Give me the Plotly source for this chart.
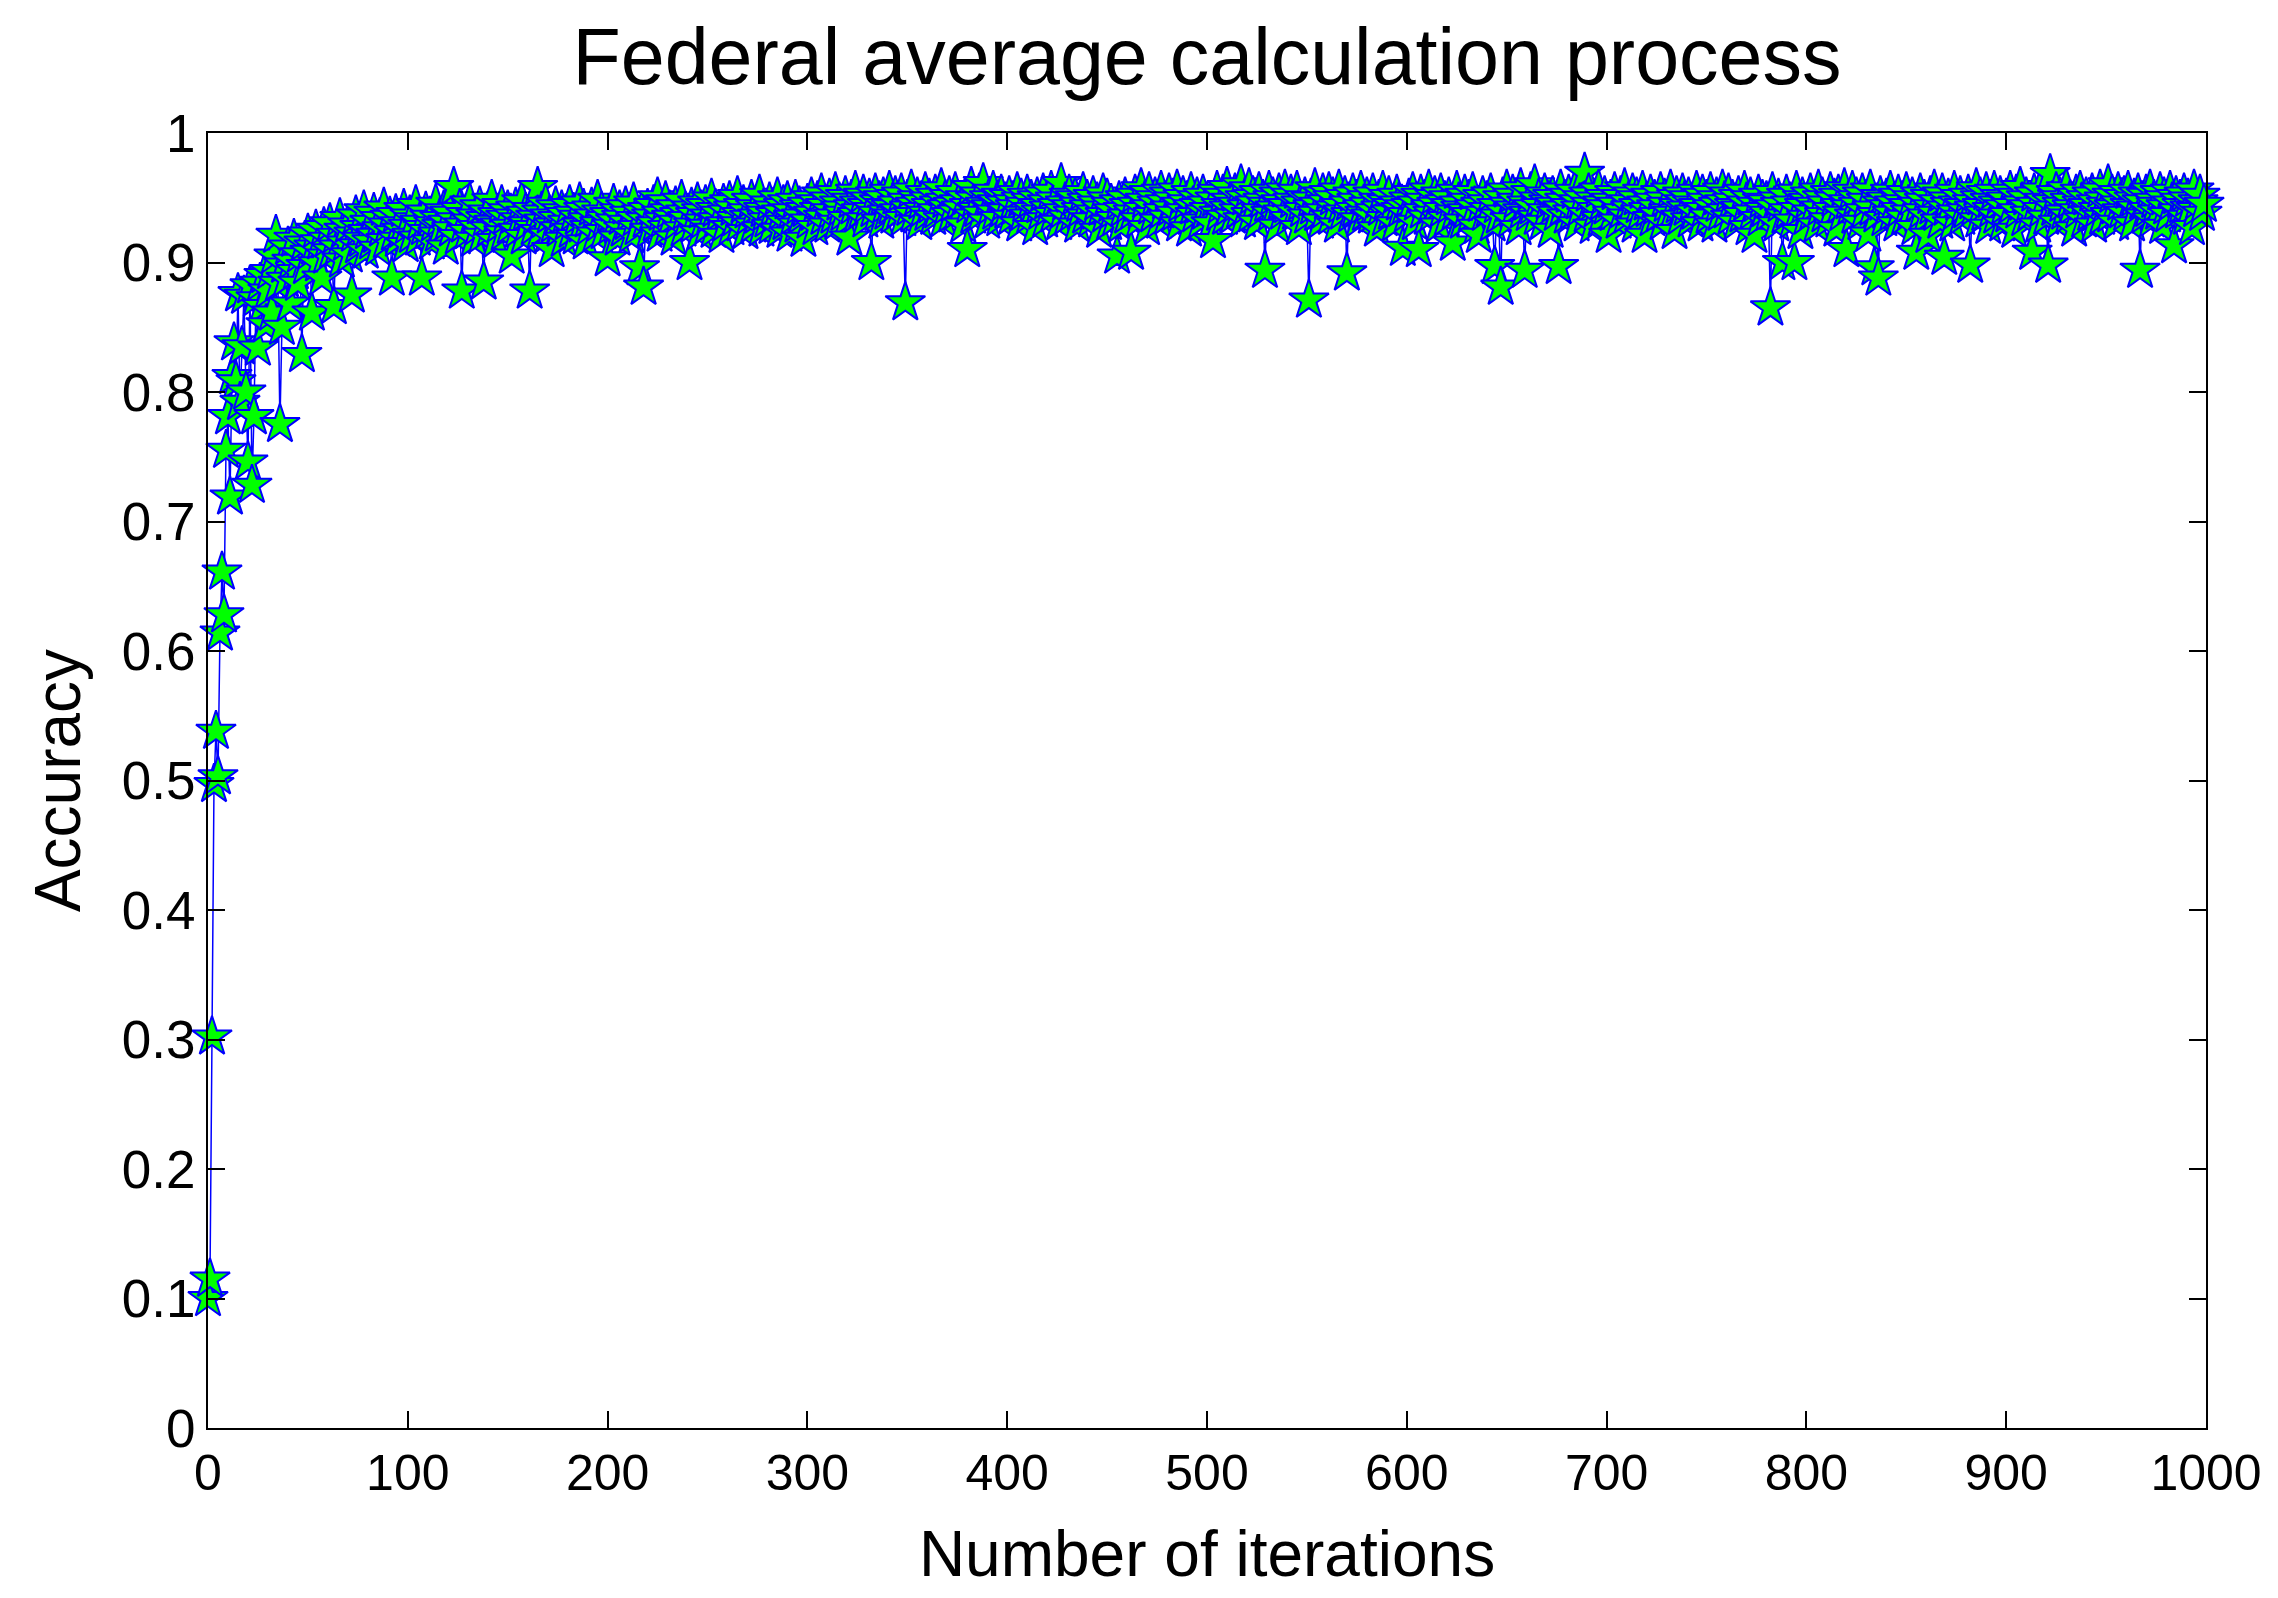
import plotly.graph_objects as go

# Accuracy per iteration (iterations 0..999), 20 per row
accuracy = [
    0.100, 0.115, 0.302, 0.497, 0.538, 0.503, 0.614, 0.661, 0.628, 0.755, 0.781, 0.719, 0.812, 0.838, 0.808, 0.876, 0.792, 0.835, 0.874, 0.800,
    0.746, 0.882, 0.728, 0.781, 0.872, 0.834, 0.884, 0.866, 0.890, 0.852, 0.878, 0.893, 0.861, 0.905, 0.921, 0.884, 0.775, 0.850, 0.898, 0.887,
    0.912, 0.868, 0.901, 0.918, 0.893, 0.884, 0.906, 0.829, 0.915, 0.897, 0.922, 0.908, 0.861, 0.912, 0.925, 0.899, 0.916, 0.888, 0.927, 0.905,
    0.918, 0.930, 0.909, 0.866, 0.921, 0.912, 0.934, 0.902, 0.925, 0.915, 0.929, 0.906, 0.875, 0.922, 0.936, 0.913, 0.927, 0.918, 0.940, 0.909,
    0.924, 0.931, 0.916, 0.938, 0.921, 0.911, 0.934, 0.926, 0.942, 0.917, 0.929, 0.935, 0.888, 0.923, 0.937, 0.918, 0.930, 0.925, 0.941, 0.914,
    0.928, 0.936, 0.921, 0.933, 0.944, 0.919, 0.931, 0.888, 0.927, 0.939, 0.924, 0.935, 0.916, 0.930, 0.945, 0.922, 0.934, 0.928, 0.940, 0.912,
    0.931, 0.938, 0.926, 0.958, 0.933, 0.920, 0.941, 0.878, 0.929, 0.937, 0.924, 0.946, 0.932, 0.918, 0.936, 0.927, 0.943, 0.921, 0.885, 0.934,
    0.939, 0.926, 0.948, 0.931, 0.917, 0.937, 0.929, 0.944, 0.923, 0.935, 0.940, 0.928, 0.905, 0.936, 0.942, 0.925, 0.933, 0.947, 0.920, 0.938,
    0.930, 0.878, 0.941, 0.927, 0.935, 0.958, 0.924, 0.939, 0.932, 0.945, 0.921, 0.936, 0.910, 0.929, 0.943, 0.934, 0.926, 0.940, 0.918, 0.937,
    0.931, 0.944, 0.925, 0.938, 0.920, 0.935, 0.946, 0.929, 0.941, 0.916, 0.933, 0.927, 0.942, 0.936, 0.922, 0.948, 0.930, 0.939, 0.924, 0.934,
    0.903, 0.937, 0.928, 0.945, 0.932, 0.919, 0.940, 0.935, 0.926, 0.943, 0.931, 0.938, 0.921, 0.946, 0.934, 0.927, 0.896, 0.939, 0.881, 0.933,
    0.941, 0.925, 0.936, 0.944, 0.930, 0.950, 0.922, 0.938, 0.933, 0.947, 0.927, 0.940, 0.935, 0.919, 0.943, 0.931, 0.937, 0.948, 0.926, 0.939,
    0.934, 0.900, 0.942, 0.929, 0.937, 0.946, 0.923, 0.940, 0.932, 0.944, 0.928, 0.936, 0.949, 0.925, 0.941, 0.933, 0.938, 0.921, 0.945, 0.930,
    0.939, 0.947, 0.927, 0.942, 0.934, 0.951, 0.930, 0.937, 0.944, 0.924, 0.940, 0.935, 0.948, 0.929, 0.943, 0.936, 0.952, 0.926, 0.941, 0.938,
    0.933, 0.946, 0.928, 0.942, 0.937, 0.950, 0.925, 0.939, 0.944, 0.931, 0.947, 0.922, 0.940, 0.935, 0.948, 0.929, 0.943, 0.936, 0.918, 0.941,
    0.945, 0.932, 0.950, 0.938, 0.927, 0.947, 0.941, 0.953, 0.935, 0.944, 0.929, 0.949, 0.940, 0.936, 0.954, 0.931, 0.946, 0.942, 0.938, 0.951,
    0.934, 0.919, 0.948, 0.943, 0.955, 0.937, 0.946, 0.940, 0.952, 0.933, 0.944, 0.949, 0.900, 0.941, 0.953, 0.938, 0.947, 0.932, 0.950, 0.944,
    0.939, 0.955, 0.943, 0.936, 0.951, 0.946, 0.940, 0.953, 0.934, 0.869, 0.948, 0.942, 0.956, 0.937, 0.945, 0.950, 0.931, 0.947, 0.941, 0.954,
    0.938, 0.949, 0.944, 0.935, 0.952, 0.940, 0.946, 0.957, 0.933, 0.948, 0.943, 0.951, 0.937, 0.945, 0.954, 0.939, 0.947, 0.942, 0.929, 0.950,
    0.910, 0.944, 0.958, 0.936, 0.949, 0.941, 0.953, 0.938, 0.961, 0.945, 0.932, 0.950, 0.943, 0.955, 0.939, 0.947, 0.934, 0.952, 0.941, 0.946,
    0.940, 0.951, 0.935, 0.947, 0.943, 0.954, 0.930, 0.949, 0.938, 0.945, 0.952, 0.936, 0.948, 0.941, 0.927, 0.950, 0.944, 0.939, 0.953, 0.933,
    0.947, 0.942, 0.955, 0.937, 0.949, 0.944, 0.931, 0.961, 0.940, 0.946, 0.935, 0.952, 0.943, 0.938, 0.950, 0.929, 0.945, 0.941, 0.954, 0.936,
    0.948, 0.943, 0.933, 0.951, 0.939, 0.946, 0.925, 0.942, 0.953, 0.937, 0.949, 0.931, 0.945, 0.940, 0.934, 0.905, 0.947, 0.929, 0.941, 0.950,
    0.936, 0.944, 0.908, 0.939, 0.952, 0.945, 0.933, 0.957, 0.941, 0.948, 0.927, 0.954, 0.943, 0.937, 0.950, 0.946, 0.932, 0.955, 0.940, 0.947,
    0.935, 0.953, 0.942, 0.949, 0.938, 0.956, 0.930, 0.945, 0.951, 0.940, 0.947, 0.926, 0.954, 0.943, 0.937, 0.950, 0.944, 0.932, 0.952, 0.939,
    0.946, 0.941, 0.930, 0.917, 0.949, 0.955, 0.938, 0.944, 0.952, 0.935, 0.958, 0.942, 0.948, 0.936, 0.953, 0.945, 0.940, 0.960, 0.933, 0.950,
    0.943, 0.957, 0.937, 0.951, 0.946, 0.931, 0.954, 0.940, 0.948, 0.894, 0.945, 0.955, 0.938, 0.950, 0.942, 0.928, 0.953, 0.947, 0.939, 0.956,
    0.944, 0.934, 0.952, 0.948, 0.939, 0.955, 0.927, 0.946, 0.941, 0.950, 0.936, 0.871, 0.949, 0.943, 0.957, 0.938, 0.945, 0.932, 0.953, 0.940,
    0.947, 0.954, 0.935, 0.950, 0.942, 0.929, 0.956, 0.944, 0.939, 0.951, 0.892, 0.946, 0.937, 0.953, 0.941, 0.948, 0.933, 0.955, 0.943, 0.938,
    0.950, 0.945, 0.936, 0.953, 0.940, 0.926, 0.948, 0.942, 0.955, 0.934, 0.947, 0.951, 0.939, 0.944, 0.930, 0.952, 0.946, 0.941, 0.911, 0.943,
    0.937, 0.949, 0.944, 0.954, 0.931, 0.946, 0.910, 0.952, 0.940, 0.948, 0.935, 0.956, 0.943, 0.938, 0.951, 0.945, 0.929, 0.953, 0.941, 0.947,
    0.934, 0.950, 0.944, 0.915, 0.939, 0.955, 0.946, 0.942, 0.932, 0.952, 0.940, 0.948, 0.937, 0.954, 0.943, 0.928, 0.921, 0.945, 0.951, 0.938,
    0.947, 0.941, 0.953, 0.930, 0.897, 0.944, 0.936, 0.881, 0.950, 0.939, 0.956, 0.945, 0.933, 0.952, 0.942, 0.948, 0.927, 0.957, 0.940, 0.894,
    0.946, 0.938, 0.954, 0.943, 0.960, 0.935, 0.949, 0.944, 0.931, 0.953, 0.940, 0.947, 0.925, 0.951, 0.945, 0.938, 0.897, 0.956, 0.942, 0.948,
    0.936, 0.952, 0.944, 0.939, 0.955, 0.930, 0.947, 0.942, 0.950, 0.969, 0.937, 0.953, 0.945, 0.928, 0.949, 0.941, 0.956, 0.934, 0.946, 0.951,
    0.943, 0.921, 0.948, 0.938, 0.954, 0.945, 0.932, 0.951, 0.940, 0.957, 0.936, 0.947, 0.942, 0.953, 0.929, 0.950, 0.944, 0.939, 0.955, 0.921,
    0.946, 0.941, 0.952, 0.934, 0.948, 0.943, 0.937, 0.954, 0.931, 0.949, 0.945, 0.940, 0.956, 0.938, 0.924, 0.951, 0.944, 0.935, 0.953, 0.947,
    0.942, 0.950, 0.933, 0.946, 0.939, 0.955, 0.944, 0.930, 0.952, 0.941, 0.948, 0.936, 0.954, 0.943, 0.929, 0.950, 0.945, 0.938, 0.956, 0.947,
    0.940, 0.953, 0.935, 0.948, 0.944, 0.931, 0.951, 0.942, 0.937, 0.955, 0.946, 0.927, 0.950, 0.939, 0.921, 0.945, 0.952, 0.934, 0.948, 0.941,
    0.947, 0.938, 0.865, 0.954, 0.943, 0.930, 0.949, 0.945, 0.900, 0.936, 0.952, 0.940, 0.946, 0.932, 0.900, 0.955, 0.941, 0.924, 0.950, 0.944,
    0.935, 0.948, 0.953, 0.939, 0.945, 0.929, 0.956, 0.942, 0.950, 0.937, 0.946, 0.933, 0.954, 0.941, 0.949, 0.926, 0.952, 0.944, 0.938, 0.957,
    0.910, 0.947, 0.943, 0.955, 0.936, 0.950, 0.945, 0.931, 0.953, 0.940, 0.948, 0.922, 0.956, 0.942, 0.896, 0.937, 0.888, 0.951, 0.946, 0.934,
    0.949, 0.943, 0.955, 0.938, 0.946, 0.930, 0.952, 0.941, 0.947, 0.935, 0.954, 0.944, 0.939, 0.950, 0.927, 0.908, 0.945, 0.953, 0.940, 0.948,
    0.936, 0.921, 0.951, 0.943, 0.956, 0.938, 0.947, 0.932, 0.953, 0.904, 0.942, 0.949, 0.945, 0.930, 0.955, 0.939, 0.946, 0.951, 0.935, 0.944,
    0.940, 0.952, 0.898, 0.947, 0.942, 0.957, 0.933, 0.950, 0.944, 0.938, 0.954, 0.928, 0.948, 0.941, 0.955, 0.936, 0.946, 0.951, 0.930, 0.943,
    0.949, 0.937, 0.955, 0.944, 0.925, 0.952, 0.940, 0.958, 0.946, 0.934, 0.950, 0.943, 0.938, 0.908, 0.953, 0.945, 0.929, 0.956, 0.941, 0.948,
    0.935, 0.898, 0.968, 0.947, 0.942, 0.954, 0.931, 0.950, 0.945, 0.939, 0.957, 0.936, 0.948, 0.943, 0.926, 0.952, 0.940, 0.955, 0.946, 0.933,
    0.950, 0.944, 0.938, 0.953, 0.929, 0.947, 0.941, 0.956, 0.935, 0.949, 0.945, 0.960, 0.937, 0.952, 0.943, 0.931, 0.954, 0.946, 0.940, 0.951,
    0.938, 0.955, 0.944, 0.930, 0.949, 0.942, 0.953, 0.894, 0.947, 0.936, 0.952, 0.941, 0.956, 0.933, 0.948, 0.945, 0.939, 0.954, 0.928, 0.950,
    0.943, 0.937, 0.955, 0.946, 0.913, 0.951, 0.940, 0.948, 0.944, 0.953, 0.935, 0.949, 0.942, 0.927, 0.956, 0.941, 0.947, 0.952, 0.938, 0.945,
]
iterations = list(range(len(accuracy)))

x_ticks = [0, 100, 200, 300, 400, 500, 600, 700, 800, 900, 1000]
y_ticks = [0, 0.1, 0.2, 0.3, 0.4, 0.5, 0.6, 0.7, 0.8, 0.9, 1]
y_tick_text = ["0", "0.1", "0.2", "0.3", "0.4", "0.5", "0.6", "0.7", "0.8", "0.9", "1"]

FONT = "Liberation Sans, Arial, sans-serif"

fig = go.Figure()
fig.add_trace(go.Scatter(
    x=iterations, y=accuracy,
    mode="lines+markers",
    line=dict(color="#0000FF", width=1.5),
    marker=dict(symbol="star", size=30, color="#00FF00",
                line=dict(color="#0000FF", width=2)),
    cliponaxis=False,
    showlegend=False,
))

axis_common = dict(
    showline=True, linecolor="black", linewidth=2, mirror="ticks",
    ticks="inside", ticklen=17, tickwidth=2, tickcolor="black",
    showgrid=False, zeroline=False,
)

fig.update_layout(
    width=2270, height=1590,
    paper_bgcolor="white", plot_bgcolor="white",
    margin=dict(l=200, r=72, t=125, b=170),
    font=dict(family=FONT, color="black"),
    title=dict(text="Federal average calculation process",
               x=0.5, xanchor="center", xref="paper",
               y=1 - 48 / 1590, yanchor="middle", yref="container",
               font=dict(size=79, family=FONT, color="black")),
    xaxis=dict(range=[0, 1000], tickvals=x_ticks,
               tickfont=dict(size=50, family=FONT),
               title=dict(text="Number of iterations",
                          font=dict(size=64, family=FONT), standoff=31),
               **axis_common),
    yaxis=dict(range=[0, 1], tickvals=y_ticks, ticktext=y_tick_text,
               tickfont=dict(size=53, family=FONT),
               title=dict(text="Accuracy",
                          font=dict(size=64, family=FONT), standoff=20),
               **axis_common),
)

fig.write_html("out.html")
